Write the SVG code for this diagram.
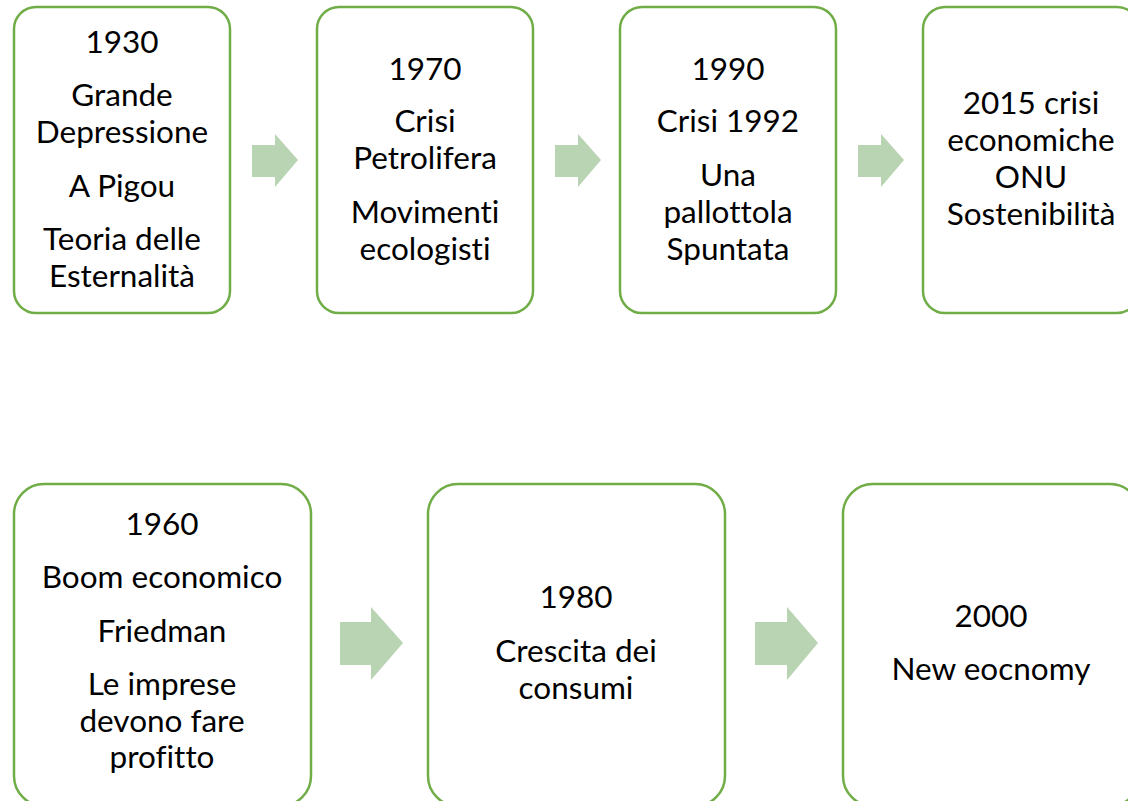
<svg xmlns="http://www.w3.org/2000/svg" width="1128" height="801" viewBox="0 0 1128 801">
<style>
.box{fill:#fff;stroke:#70AD47;stroke-width:2.5}
.arr{fill:#B9D4B2}
text{font-family:Lato,"Liberation Sans",sans-serif;font-size:31.5px;fill:#000;text-anchor:middle;font-variant-ligatures:none;font-feature-settings:"liga" 0}
</style>
<rect width="1128" height="801" fill="#fff"/>
<g id="connectors">
<polygon class="arr" points="252,145 275,145 275,134 298,160 275,187 275,177 252,177"/>
<polygon class="arr" points="555,145 578,145 578,134 601,160 578,187 578,177 555,177"/>
<polygon class="arr" points="858,145 881,145 881,134 904,160 881,187 881,177 858,177"/>
<polygon class="arr" points="340,622 371,622 371,607 403,643 371,680 371,665 340,665"/>
<polygon class="arr" points="755,622 787,622 787,607 818,643 787,680 787,665 755,665"/>
</g>
<g id="n1930">
<rect class="box" x="14" y="7" width="216" height="306" rx="22"/>
<text x="122" y="53">1930</text>
<text x="122" y="106">Grande</text>
<text x="122" y="143">Depressione</text>
<text x="122" y="197">A Pigou</text>
<text x="122" y="250">Teoria delle</text>
<text x="122" y="287">Esternalità</text>
</g>
<g id="n1970">
<rect class="box" x="317" y="7" width="216" height="306" rx="22"/>
<text x="425" y="80">1970</text>
<text x="425" y="132">Crisi</text>
<text x="425" y="169">Petrolifera</text>
<text x="425" y="223">Movimenti</text>
<text x="425" y="260">ecologisti</text>
</g>
<g id="n1990">
<rect class="box" x="620" y="7" width="216" height="306" rx="22"/>
<text x="728" y="80">1990</text>
<text x="728" y="132">Crisi 1992</text>
<text x="728" y="186">Una</text>
<text x="728" y="223">pallottola</text>
<text x="728" y="260">Spuntata</text>
</g>
<g id="n2015">
<rect class="box" x="923" y="7" width="216" height="306" rx="22"/>
<text x="1031" y="114">2015 crisi</text>
<text x="1031" y="151">economiche</text>
<text x="1031" y="188">ONU</text>
<text x="1031" y="225">Sostenibilità</text>
</g>
<g id="n1960">
<rect class="box" x="14" y="484" width="297" height="322" rx="30"/>
<text x="162" y="535">1960</text>
<text x="162" y="588">Boom economico</text>
<text x="162" y="642">Friedman</text>
<text x="162" y="695">Le imprese</text>
<text x="162" y="732">devono fare</text>
<text x="162" y="768">profitto</text>
</g>
<g id="n1980">
<rect class="box" x="428" y="484" width="297" height="322" rx="30"/>
<text x="576" y="608">1980</text>
<text x="576" y="662">Crescita dei</text>
<text x="576" y="699">consumi</text>
</g>
<g id="n2000">
<rect class="box" x="843" y="484" width="297" height="322" rx="30"/>
<text x="991" y="627">2000</text>
<text x="991" y="680">New eocnomy</text>
</g>
</svg>
